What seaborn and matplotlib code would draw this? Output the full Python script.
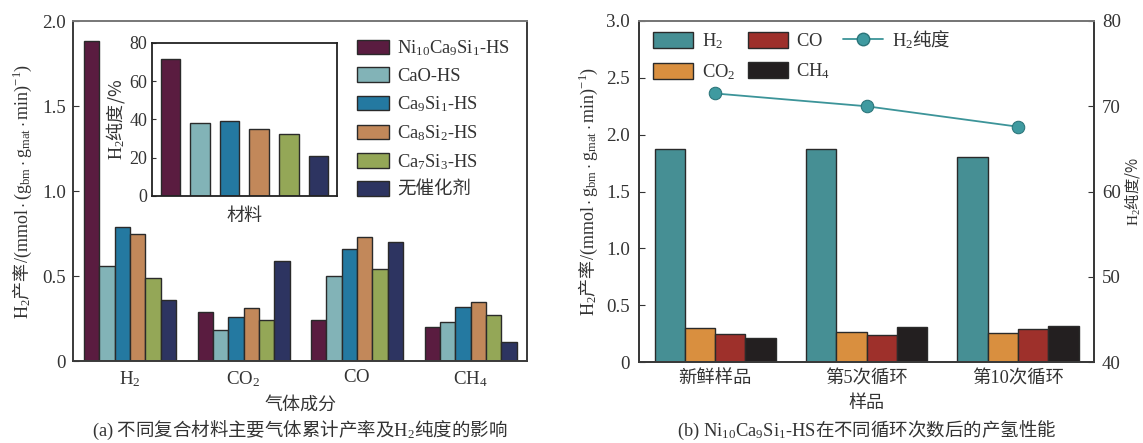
import matplotlib
matplotlib.use("Agg")
import matplotlib.pyplot as plt
import seaborn as sns
import pandas as pd
from matplotlib.lines import Line2D
from matplotlib.patches import Patch

# ---- data ----
gases = ["$H_2$", "$CO_2$", "$CO$", "$CH_4$"]
materials = ["$Ni_{10}Ca_9Si_1$-HS", "CaO-HS", "$Ca_9Si_1$-HS", "$Ca_8Si_2$-HS", "$Ca_7Si_3$-HS", "无催化剂"]
mat_colors = ["#5a1c40", "#82b3b7", "#2479a1", "#c2885a", "#94a757", "#2d3461"]
yield_ni = [1.88, 0.29, 0.24, 0.20]
yield_cao = [0.56, 0.18, 0.50, 0.23]
yield_ca9 = [0.79, 0.26, 0.66, 0.32]
yield_ca8 = [0.75, 0.31, 0.73, 0.35]
yield_ca7 = [0.49, 0.24, 0.54, 0.27]
yield_none = [0.36, 0.59, 0.70, 0.11]
purity_mat = [71.6, 38.1, 39.0, 35.2, 32.2, 20.8]

samples = ["新鲜样品", "第5次循环", "第10次循环"]
gas_b = ["$H_2$", "$CO_2$", "$CO$", "$CH_4$"]
gas_b_colors = ["#468f94", "#d98f3f", "#9e302b", "#231f20"]
h2_b = [1.87, 1.87, 1.80]
co2_b = [0.30, 0.26, 0.255]
co_b = [0.245, 0.24, 0.29]
ch4_b = [0.21, 0.31, 0.32]
purity_b = [71.5, 70.0, 67.6]

sns.set_style("ticks")
plt.rcParams["font.family"] = ["Liberation Serif", "Noto Sans CJK SC", "DejaVu Sans"]
plt.rcParams["mathtext.fontset"] = "custom"
plt.rcParams["mathtext.rm"] = "Liberation Serif"
plt.rcParams["mathtext.it"] = "Liberation Serif:italic"
plt.rcParams["mathtext.bf"] = "Liberation Serif:bold"
plt.rcParams["mathtext.default"] = "rm"
plt.rcParams["text.color"] = "#333333"
plt.rcParams["axes.labelcolor"] = "#333333"
plt.rcParams["xtick.color"] = "#333333"
plt.rcParams["ytick.color"] = "#333333"
plt.rcParams["xtick.direction"] = "in"
plt.rcParams["ytick.direction"] = "in"
CJK = ["Noto Sans CJK SC"]
TICK = 13.6
LAB = 13
LEG = 13.3
EDGE = "#2a2a2a"

fig = plt.figure(figsize=(11.43, 4.43), dpi=100)

# ---- (a) ----
df_a = pd.DataFrame({
    "gas": gases * 6,
    "mat": [m for m in materials for _ in gases],
    "val": yield_ni + yield_cao + yield_ca9 + yield_ca8 + yield_ca7 + yield_none,
})
ax1 = fig.add_axes([0.064, 0.185, 0.3975, 0.7675])
sns.barplot(data=df_a, x="gas", y="val", hue="mat", palette=mat_colors, width=0.81,
            saturation=1, edgecolor=EDGE, linewidth=1, ax=ax1, legend=False)
ax1.set_xlim(-0.5, 3.5)
ax1.set_ylim(0, 2.0)
ax1.set_yticks([0, 0.5, 1.0, 1.5, 2.0])
ax1.set_yticklabels(["0", "0.5", "1.0", "1.5", "2.0"])
ax1.tick_params(axis="x", length=0, labelsize=TICK, pad=6)
ax1.tick_params(axis="y", length=4, labelsize=TICK, pad=5)
ax1.set_xlabel("气体成分", fontsize=LAB, family=CJK, labelpad=5)
ax1.set_ylabel(r"$H_2$产率$/(mmol\cdot(g_{bm}\cdot g_{mat}\cdot min)^{-1})$",
               fontsize=LAB, family=CJK, labelpad=6)
for s in ax1.spines.values():
    s.set_color("#3a3a3a")
    s.set_linewidth(1.4)
ax1.spines["top"].set_color("#777777")

leg_handles = [Patch(facecolor=c, edgecolor=EDGE, linewidth=1) for c in mat_colors]
fig.legend(leg_handles, materials, loc="upper left", bbox_to_anchor=(0.306, 0.93),
           frameon=False, fontsize=LEG, handlelength=1.75, handleheight=0.85,
           labelspacing=0.5, handletextpad=0.4, borderaxespad=0)

# inset
ax_in = fig.add_axes([0.1328, 0.5576, 0.162, 0.3454])
sns.barplot(x=list(range(6)), y=purity_mat, hue=list(range(6)), palette=mat_colors,
            width=0.66, saturation=1, edgecolor=EDGE, linewidth=1, ax=ax_in, legend=False)
ax_in.set_xlim(-0.625, 5.625)
ax_in.set_ylim(0, 80)
ax_in.set_yticks([0, 20, 40, 60, 80])
ax_in.set_xticks([])
ax_in.tick_params(axis="y", length=3, labelsize=13, pad=3)
ax_in.set_xlabel("材料", fontsize=LAB, family=CJK, labelpad=8)
ax_in.set_ylabel(r"$H_2$纯度/%", fontsize=LAB, family=CJK, labelpad=2)
for s in ax_in.spines.values():
    s.set_color("#222222")
    s.set_linewidth(1.3)

fig.text(0.2625, 0.003, r"$(a)$ 不同复合材料主要气体累计产率及$H_2$纯度的影响",
         ha="center", va="bottom", fontsize=13.3, family=CJK)

# ---- (b) ----
df_b = pd.DataFrame({
    "sample": samples * 4,
    "gas": [g for g in gas_b for _ in samples],
    "val": h2_b + co2_b + co_b + ch4_b,
})
ax2 = fig.add_axes([0.5594, 0.1828, 0.3975, 0.7698])
sns.barplot(data=df_b, x="sample", y="val", hue="gas", palette=gas_b_colors, width=0.8,
            saturation=1, edgecolor=EDGE, linewidth=1, ax=ax2, legend=False)
ax2.set_xlim(-0.5, 2.5)
ax2.set_ylim(0, 3.0)
ax2.set_yticks([0, 0.5, 1.0, 1.5, 2.0, 2.5, 3.0])
ax2.set_yticklabels(["0", "0.5", "1.0", "1.5", "2.0", "2.5", "3.0"])
ax2.tick_params(axis="x", length=0, labelsize=13.2, pad=6)
ax2.tick_params(axis="y", length=4, labelsize=TICK, pad=7)
ax2.set_xlabel("样品", fontsize=LAB, family=CJK, labelpad=5)
ax2.set_ylabel(r"$H_2$产率$/(mmol\cdot g_{bm}\cdot g_{mat}\cdot min)^{-1})$",
               fontsize=LAB, family=CJK, labelpad=4)

ax3 = ax2.twinx()
sns.lineplot(x=[0, 1, 2], y=purity_b, color="#3c9499", marker="o", markersize=9,
             markerfacecolor="#3f9aa0", markeredgecolor="#2b7479", linewidth=1.3, ax=ax3)
ax3.set_ylim(40, 80)
ax3.set_yticks([40, 50, 60, 70, 80])
ax3.tick_params(axis="y", length=4, labelsize=TICK, pad=6)
ax3.set_ylabel(r"$H_2$纯度/%", fontsize=11, family=CJK)
ax3.yaxis.set_label_coords(1.062, 0.5)
for a in (ax2, ax3):
    for s in a.spines.values():
        s.set_color("#3a3a3a")
        s.set_linewidth(1.4)
    a.spines["top"].set_color("#777777")

hb = [Patch(facecolor=c, edgecolor=EDGE, linewidth=1) for c in gas_b_colors]
hl = Line2D([], [], color="#3c9499", marker="o", markersize=9,
            markerfacecolor="#3f9aa0", markeredgecolor="#2b7479", linewidth=1.3)
ax2.legend(hb + [hl], gas_b + [r"$H_2$纯度"], ncol=3, loc="upper left",
           bbox_to_anchor=(0.014, 1.0), frameon=False,
           handlelength=2.15, handleheight=1.0, columnspacing=0.7,
           labelspacing=0.6, handletextpad=0.47, borderaxespad=0,
           prop={"family": CJK, "size": LEG})

fig.text(0.758, 0.003, r"$(b)\ Ni_{10}Ca_9Si_1\text{-HS}$在不同循环次数后的产氢性能",
         ha="center", va="bottom", fontsize=13.3, family=CJK)

fig.savefig("out.png", dpi=100)
